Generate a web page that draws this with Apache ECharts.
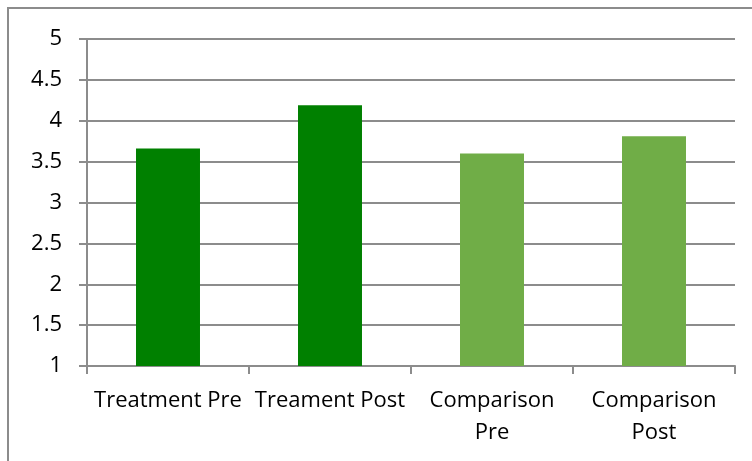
<!DOCTYPE html>
<html>
<head>
<meta charset="utf-8">
<script src="https://cdn.jsdelivr.net/npm/echarts@6/dist/echarts.min.js"></script>
<style>
  html, body { margin: 0; padding: 0; background: #fff; }
  #chart { width: 752px; height: 461px; }
</style>
</head>
<body>
<div id="chart"></div>
<script>
// Mean scores per group and time point
const categories = ['Treatment Pre', 'Treament Post', 'Comparison Pre', 'Comparison Post'];
const scores = [3.66, 4.19, 3.6, 3.81];
const barColors = ['#008000', '#008000', '#70AD47', '#70AD47'];
const yTicks = { min: 1, max: 5, step: 0.5 };

const chart = echarts.init(document.getElementById('chart'));
const axisGray = '#8c8c8c';
const fontFamily = '"Open Sans", Lato, sans-serif';

chart.setOption({
  animation: false,
  graphic: [{
    type: 'rect',
    shape: { x: 8, y: 8, width: 800, height: 500 },
    style: { fill: 'none', stroke: '#8c8c8c', lineWidth: 2 },
    z: -1
  }],
  grid: { left: 87, right: 17, top: 39, bottom: 95 },
  xAxis: {
    type: 'category',
    data: categories,
    axisLine: { lineStyle: { color: axisGray, width: 2 } },
    axisTick: { show: true, length: 8, lineStyle: { color: axisGray, width: 2 } },
    axisLabel: {
      color: '#000',
      fontFamily: fontFamily,
      fontSize: 22,
      margin: 19,
      lineHeight: 32,
      interval: 0,
      formatter: v => v.startsWith('Comparison') ? v.replace(' ', '\n') : v
    }
  },
  yAxis: {
    type: 'value',
    min: yTicks.min,
    max: yTicks.max,
    interval: yTicks.step,
    axisLine: { show: true, lineStyle: { color: axisGray, width: 2 } },
    axisTick: { show: true, length: 8, lineStyle: { color: axisGray, width: 2 } },
    splitLine: { lineStyle: { color: axisGray, width: 2 } },
    axisLabel: {
      color: '#000',
      fontFamily: fontFamily,
      fontSize: 22,
      margin: 25
    }
  },
  series: [{
    type: 'bar',
    data: scores.map((v, i) => ({ value: v, itemStyle: { color: barColors[i] } })),
    barWidth: '39.5%'
  }]
});
</script>
</body>
</html>
